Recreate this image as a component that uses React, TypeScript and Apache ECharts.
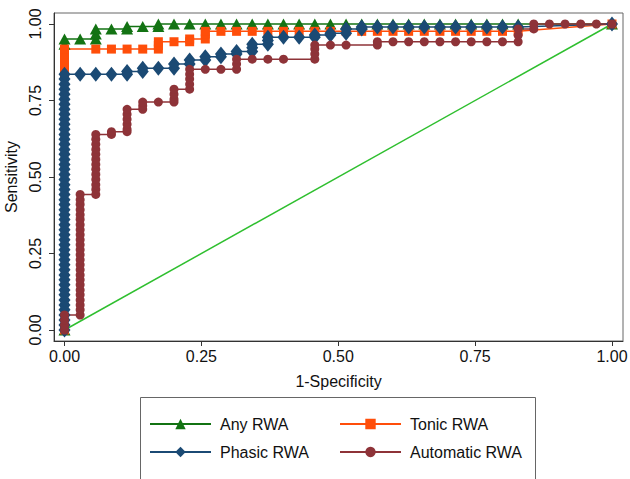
import React, { useEffect, useRef } from "react";
import * as echarts from "echarts";

// Number of negative cases: false-positive counts are read on a 1/35 grid.
const NEGATIVES = 35;

const xTicks = [0, 0.25, 0.5, 0.75, 1];
const yTicks = [0, 0.25, 0.5, 0.75, 1];

const seriesNames = ["Any RWA", "Tonic RWA", "Phasic RWA", "Automatic RWA"];

// [false-positive count, sensitivity]
const anyRwa: [number, number][] = [
  [0, 0], [0, 0.934], [0, 0.951],
  [1, 0.951],
  [2, 0.951], [2, 0.967], [2, 0.984],
  [3, 0.984],
  [4, 0.984], [4, 0.992],
  [5, 0.992],
  [6, 0.992], [6, 1],
  [7, 1], [8, 1], [9, 1], [10, 1], [11, 1], [12, 1], [13, 1], [14, 1],
  [15, 1], [16, 1], [17, 1], [18, 1], [19, 1], [20, 1], [21, 1], [22, 1],
  [23, 1], [24, 1], [25, 1], [26, 1], [27, 1], [28, 1], [29, 1],
  [35, 1],
];

const tonicRwa: [number, number][] = [
  [0, 0], [0, 0.836], [0, 0.852], [0, 0.869], [0, 0.885], [0, 0.902], [0, 0.918],
  [2, 0.918], [3, 0.918], [4, 0.918], [5, 0.918],
  [6, 0.918], [6, 0.93], [6, 0.942],
  [7, 0.942],
  [8, 0.942], [8, 0.951],
  [9, 0.951], [9, 0.967], [9, 0.976],
  [10, 0.976], [11, 0.976], [12, 0.976], [13, 0.976], [14, 0.976], [15, 0.976],
  [16, 0.976], [17, 0.976], [18, 0.976], [19, 0.976], [20, 0.976], [21, 0.976],
  [22, 0.976], [23, 0.976], [24, 0.976], [25, 0.976], [26, 0.976], [27, 0.976],
  [28, 0.976], [29, 0.976],
  [35, 1],
];

const phasicRwa: [number, number][] = [
  [0, 0], [0, 0.016], [0, 0.033], [0, 0.049], [0, 0.066], [0, 0.082], [0, 0.098],
  [0, 0.115], [0, 0.131], [0, 0.148], [0, 0.164], [0, 0.18], [0, 0.197], [0, 0.213],
  [0, 0.23], [0, 0.246], [0, 0.262], [0, 0.279], [0, 0.295], [0, 0.311], [0, 0.328],
  [0, 0.344], [0, 0.361], [0, 0.377], [0, 0.393], [0, 0.41], [0, 0.426], [0, 0.443],
  [0, 0.459], [0, 0.475], [0, 0.492], [0, 0.508], [0, 0.525], [0, 0.541], [0, 0.557],
  [0, 0.574], [0, 0.59], [0, 0.607], [0, 0.623], [0, 0.639], [0, 0.656], [0, 0.672],
  [0, 0.689], [0, 0.705], [0, 0.721], [0, 0.738], [0, 0.754], [0, 0.77], [0, 0.787],
  [0, 0.803], [0, 0.82], [0, 0.836],
  [1, 0.836], [2, 0.836], [3, 0.836],
  [4, 0.836], [4, 0.845],
  [5, 0.845], [5, 0.855],
  [6, 0.855],
  [7, 0.855], [7, 0.869],
  [8, 0.869], [8, 0.882],
  [9, 0.882], [9, 0.893],
  [10, 0.893], [10, 0.902],
  [11, 0.902], [11, 0.91],
  [12, 0.91], [12, 0.922], [12, 0.934],
  [13, 0.934], [13, 0.946], [13, 0.957],
  [14, 0.957], [15, 0.957],
  [16, 0.957], [16, 0.964],
  [17, 0.964], [17, 0.97],
  [18, 0.97], [18, 0.984],
  [19, 0.984], [19, 0.99],
  [20, 0.99], [21, 0.99], [22, 0.99], [23, 0.99], [24, 0.99], [25, 0.99],
  [26, 0.99], [27, 0.99], [28, 0.99], [29, 0.99],
  [35, 1],
];

const automaticRwa: [number, number][] = [
  [0, 0], [0, 0.016], [0, 0.033], [0, 0.049],
  [1, 0.049], [1, 0.066], [1, 0.082], [1, 0.098], [1, 0.115], [1, 0.131], [1, 0.148],
  [1, 0.164], [1, 0.18], [1, 0.197], [1, 0.213], [1, 0.23], [1, 0.246], [1, 0.262],
  [1, 0.279], [1, 0.295], [1, 0.311], [1, 0.328], [1, 0.344], [1, 0.361], [1, 0.377],
  [1, 0.393], [1, 0.41], [1, 0.426], [1, 0.443],
  [2, 0.443], [2, 0.459], [2, 0.475], [2, 0.492], [2, 0.508], [2, 0.525], [2, 0.541],
  [2, 0.557], [2, 0.574], [2, 0.59], [2, 0.607], [2, 0.623], [2, 0.639],
  [3, 0.639], [3, 0.648],
  [4, 0.648], [4, 0.656], [4, 0.672], [4, 0.689], [4, 0.705], [4, 0.721],
  [5, 0.721], [5, 0.733], [5, 0.745],
  [6, 0.745],
  [7, 0.745], [7, 0.754], [7, 0.77], [7, 0.787],
  [8, 0.787], [8, 0.803], [8, 0.82], [8, 0.836], [8, 0.852],
  [9, 0.852], [10, 0.852],
  [11, 0.852], [11, 0.869], [11, 0.885],
  [12, 0.885], [13, 0.885], [14, 0.885],
  [16, 0.885], [16, 0.902], [16, 0.918], [16, 0.931],
  [17, 0.931], [18, 0.931],
  [20, 0.931], [20, 0.942],
  [21, 0.942], [22, 0.942], [23, 0.942], [24, 0.942], [25, 0.942], [26, 0.942],
  [27, 0.942], [28, 0.942],
  [29, 0.942], [29, 0.963], [29, 0.984],
  [30, 0.984], [30, 1],
  [31, 1], [32, 1], [33, 1], [34, 1], [35, 1],
];

const referenceLine: [number, number][] = [
  [0, 0],
  [1, 1],
];

const FONT = "'Liberation Sans', Arial, Helvetica, sans-serif";

export default function App() {
  const ref = useRef<HTMLDivElement>(null);

  useEffect(() => {
    if (!ref.current) return;
    const chart = echarts.init(ref.current, undefined, { renderer: "svg" });

    const toXY = (pts: [number, number][]) => pts.map(([fp, s]) => [fp / NEGATIVES, s]);

    const mk = (
      name: string,
      pts: [number, number][],
      color: string,
      symbol: string,
      symbolSize: number | number[]
    ) => ({
      name,
      type: "line",
      data: toXY(pts),
      symbol,
      symbolSize,
      showSymbol: true,
      showAllSymbol: true,
      lineStyle: { color, width: 1.5 },
      itemStyle: { color, borderWidth: 0 },
      emphasis: { disabled: true },
      z: 3,
    });

    const legendBase = {
      orient: "vertical",
      top: 411,
      itemWidth: 61,
      itemHeight: 13,
      itemGap: 12,
      textStyle: { fontSize: 16, color: "#111", fontFamily: FONT, padding: [0, 0, 0, 4] },
      selectedMode: false,
    };

    const option: any = {
      animation: false,
      backgroundColor: "#ffffff",
      textStyle: { fontFamily: FONT },
      grid: {
        left: 54,
        top: 13,
        width: 569,
        height: 328,
        show: true,
        containLabel: false,
        outerBoundsMode: "none",
        borderColor: "#666",
        borderWidth: 1,
        backgroundColor: "#fff",
      },
      xAxis: {
        type: "value",
        min: -0.0192,
        max: 1.0201,
        axisLine: { show: true, onZero: false, lineStyle: { color: "#333", width: 1 } },
        axisTick: { show: true, length: 5, customValues: xTicks, lineStyle: { color: "#333" } },
        axisLabel: {
          customValues: xTicks,
          formatter: (v: number) => v.toFixed(2),
          fontSize: 16,
          color: "#111",
          margin: 7,
          fontFamily: FONT,
        },
        splitLine: { show: false },
        name: "1-Specificity",
        nameLocation: "middle",
        nameGap: 32,
        nameTextStyle: { fontSize: 16, color: "#111", fontFamily: FONT },
      },
      yAxis: {
        type: "value",
        min: -0.0359,
        max: 1.0359,
        axisLine: { show: true, onZero: false, lineStyle: { color: "#333", width: 1 } },
        axisTick: { show: true, length: 5, customValues: yTicks, lineStyle: { color: "#333" } },
        axisLabel: {
          customValues: yTicks,
          formatter: (v: number) => v.toFixed(2),
          fontSize: 16,
          color: "#111",
          margin: 11,
          rotate: 90,
          fontFamily: FONT,
        },
        splitLine: { show: false },
        name: "Sensitivity",
        nameLocation: "middle",
        nameGap: 30,
        nameRotate: 90,
        nameTextStyle: { fontSize: 16, color: "#111", fontFamily: FONT },
      },
      legend: [
        { ...legendBase, data: [seriesNames[0], seriesNames[2]], left: 144 },
        { ...legendBase, data: [seriesNames[1], seriesNames[3]], left: 334 },
      ],
      graphic: [
        {
          type: "rect",
          shape: { x: 140.5, y: 397.5, width: 395, height: 100 },
          style: { fill: "none", stroke: "#666", lineWidth: 1 },
          silent: true,
        },
      ],
      series: [
        {
          name: "reference",
          type: "line",
          data: referenceLine,
          symbol: "none",
          lineStyle: { color: "#2fbf2f", width: 1.5 },
          emphasis: { disabled: true },
          z: 2,
        },
        mk(seriesNames[0], anyRwa, "#137313", "triangle", [12, 11]),
        mk(seriesNames[1], tonicRwa, "#ff4e0a", "rect", 9),
        mk(seriesNames[2], phasicRwa, "#1b4a74", "diamond", [12, 15]),
        mk(seriesNames[3], automaticRwa, "#8e3338", "circle", 9),
      ],
    };

    chart.setOption(option);
    return () => chart.dispose();
  }, []);

  return (
    <div
      ref={ref}
      style={{ position: "fixed", left: 0, top: 0, width: 630, height: 479, background: "#fff" }}
    />
  );
}
